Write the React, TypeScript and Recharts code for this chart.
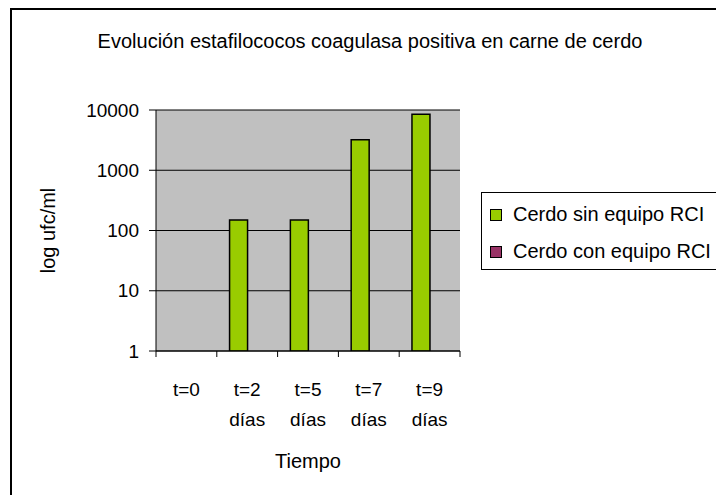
import { BarChart, Bar, XAxis, YAxis, CartesianGrid, Legend, Label } from 'recharts';

const categories = ['t=0', 't=2 días', 't=5 días', 't=7 días', 't=9 días'];
const sinEquipo = [null, 150, 150, 3200, 8500];
const conEquipo = [null, null, null, null, null];
const yTicks = [1, 10, 100, 1000, 10000];

const seriesNames = ['Cerdo sin equipo RCI', 'Cerdo con equipo RCI'];
const seriesColors = ['#99CC00', '#993366'];

const data = categories.map((c, i) => ({ name: c, s1: sinEquipo[i], s2: conEquipo[i] }));

const FONT = '"Liberation Sans", Arial, sans-serif';

function XTick(props: any) {
  const { x, y, payload, index } = props;
  const half = payload && payload.offset ? payload.offset : 30.4;
  const lines = String(payload.value).split(' ');
  return (
    <g>
      <line x1={x - half} x2={x - half} y1={y - 8} y2={y - 2} stroke="#000" />
      {index === categories.length - 1 && (
        <line x1={x + half} x2={x + half} y1={y - 8} y2={y - 2} stroke="#000" />
      )}
      <text x={x} y={y + 37} textAnchor="middle" fontSize={19} fontFamily={FONT} fill="#000">
        {lines.map((l, i) => (
          <tspan key={i} x={x} dy={i === 0 ? 0 : 30}>{l}</tspan>
        ))}
      </text>
    </g>
  );
}

function LegendBox() {
  return (
    <div style={{ position: 'absolute', left: 481, top: 192, width: 260, height: 76, border: '1px solid #000', background: '#fff', fontFamily: FONT, fontSize: 20 }}>
      {seriesNames.map((n, i) => (
        <div key={n} style={{ position: 'absolute', left: 8, top: 10 + i * 37, display: 'flex', alignItems: 'center', whiteSpace: 'nowrap' }}>
          <span style={{ width: 10, height: 10, border: '1px solid #000', background: seriesColors[i], display: 'inline-block', marginRight: 11 }} />
          <span>{n}</span>
        </div>
      ))}
    </div>
  );
}

export default function App() {
  return (
    <div style={{ position: 'absolute', left: 0, top: 0, width: 716, height: 495, overflow: 'hidden', background: '#fff' }}>
      <div style={{ position: 'absolute', left: 10, top: 8, width: 720, height: 500, borderTop: '2px solid #000', borderLeft: '2px solid #000' }} />
      <div style={{ position: 'absolute', left: 0, width: 740, top: 30, textAlign: 'center', fontFamily: FONT, fontSize: 20 }}>
        Evolución estafilococos coagulasa positiva en carne de cerdo
      </div>
      <div style={{ position: 'absolute', left: 0, top: 0 }}>
        <BarChart width={716} height={495} data={data} margin={{ top: 110, right: 256, bottom: 27, left: 96 }} barGap={0} barCategoryGap="21%">
          <CartesianGrid fill="#C0C0C0" stroke="#000" vertical={false} />
          <XAxis dataKey="name" height={117} stroke="#000" tickLine={false} tick={<XTick />} interval={0}>
            <Label value="Tiempo" position="insideBottom" offset={0} style={{ fontSize: 20, fontFamily: FONT, fill: '#000' }} />
          </XAxis>
          <YAxis scale="log" domain={[1, 10000]} ticks={yTicks} width={60} stroke="#000" tickSize={7} allowDataOverflow
            tick={{ fontSize: 19, fontFamily: FONT, fill: '#000' }} tickMargin={10}>
            <Label value="log ufc/ml" angle={-90} position="center" dx={-78} style={{ fontSize: 20, fontFamily: FONT, fill: '#000' }} />
          </YAxis>
          <Legend content={() => null} />
          <Bar dataKey="s1" name={seriesNames[0]} fill={seriesColors[0]} stroke="#000" strokeWidth={1.5} isAnimationActive={false} />
          <Bar dataKey="s2" name={seriesNames[1]} fill={seriesColors[1]} stroke="#000" strokeWidth={1.5} isAnimationActive={false} />
        </BarChart>
      </div>
      <LegendBox />
    </div>
  );
}
